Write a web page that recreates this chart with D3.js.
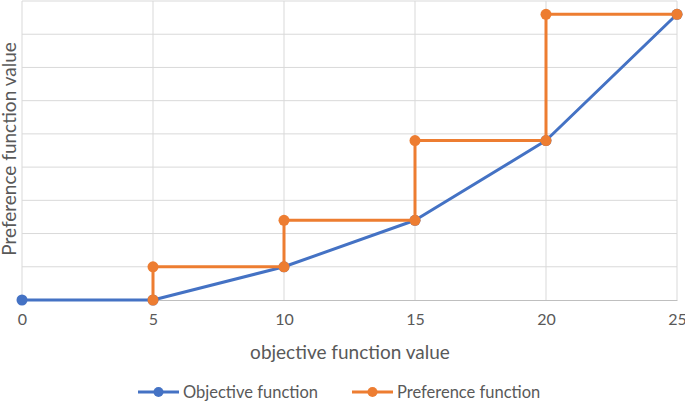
<!DOCTYPE html>
<html><head><meta charset="utf-8">
<script src="https://cdn.jsdelivr.net/npm/d3@7"></script>
<style>body{margin:0;background:#fff}svg{display:block}text{font-family:Lato,"Open Sans",sans-serif;fill:#595959}</style>
</head><body><svg id="c" width="685" height="402"></svg>
<script>
const objX = [0, 5, 10, 15, 20, 25];
const objY = [0, 0, 1, 2.4, 4.8, 8.6];
const prefX = [5, 5, 10, 10, 15, 15, 20, 20, 25];
const prefY = [0, 1, 1, 2.4, 2.4, 4.8, 4.8, 8.6, 8.6];
const xTicks = [0, 5, 10, 15, 20, 25];
const yGrid = [0,1,2,3,4,5,6,7,8,9];
const seriesNames = ["Objective function", "Preference function"];
const colors = ["#4472C4", "#ED7D31"];

const svg = d3.select("#c");
const x = d3.scaleLinear().domain([0, 25]).range([22, 677]);
const y = d3.scaleLinear().domain([0, 9]).range([300, 1]);

// gridlines
svg.append("g").selectAll("line.h").data(yGrid.slice(1)).join("line")
  .attr("x1", x(0)).attr("x2", x(25)).attr("y1", d => y(d)).attr("y2", d => y(d))
  .attr("stroke", "#d9d9d9").attr("stroke-width", 1);
svg.append("g").selectAll("line.v").data(xTicks).join("line")
  .attr("x1", d => x(d)).attr("x2", d => x(d)).attr("y1", y(0)).attr("y2", y(9))
  .attr("stroke", "#d9d9d9").attr("stroke-width", 1);

// x axis
const xa = svg.append("g").attr("transform", `translate(0,${y(0)})`)
  .call(d3.axisBottom(x).tickValues(xTicks).tickSize(0).tickPadding(14).tickFormat(d3.format("d")));
xa.select(".domain").attr("stroke", "#bfbfbf");
xa.selectAll("text").style("font-size", "16px").attr("fill", "#595959");

const line = d3.line().x(d => x(d[0])).y(d => y(d[1]));
const obj = objX.map((v, i) => [v, objY[i]]);
const pref = prefX.map((v, i) => [v, prefY[i]]);

[obj, pref].forEach((data, i) => {
  svg.append("path").datum(data).attr("d", line).attr("fill", "none")
    .attr("stroke", colors[i]).attr("stroke-width", 3).attr("stroke-linejoin", "round");
  svg.append("g").selectAll("circle").data(data).join("circle")
    .attr("cx", d => x(d[0])).attr("cy", d => y(d[1])).attr("r", 5.5).attr("fill", colors[i]);
});

// axis titles
svg.append("text").attr("x", 350).attr("y", 359).attr("text-anchor", "middle")
  .style("font-size", "19px").text("objective function value");
svg.append("text").attr("transform", "translate(16,149) rotate(-90)").attr("text-anchor", "middle")
  .style("font-size", "19px").text("Preference function value");

// legend
const legX = [138, 352];
seriesNames.forEach((n, i) => {
  const g = svg.append("g").attr("transform", `translate(${legX[i]},392)`);
  g.append("line").attr("x1", 0).attr("x2", 41).attr("stroke", colors[i]).attr("stroke-width", 3);
  g.append("circle").attr("cx", 20.5).attr("r", 5).attr("fill", colors[i]);
  g.append("text").attr("x", 45).attr("y", 6).style("font-size", "16.5px").text(n);
});
</script></body></html>
